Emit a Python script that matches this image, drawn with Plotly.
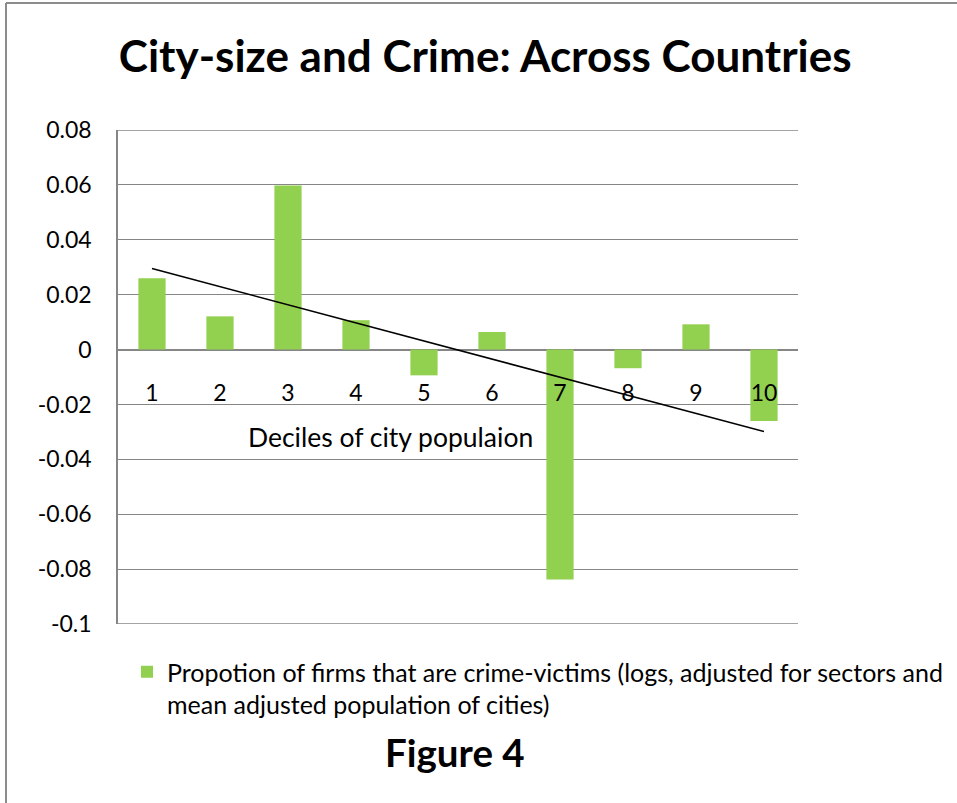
import numpy as np
import plotly.graph_objects as go

# Deciles of city population and adjusted crime-victim proportions
deciles = [1, 2, 3, 4, 5, 6, 7, 8, 9, 10]
crime_share = [0.026, 0.0121, 0.0598, 0.0107, -0.0094, 0.0064, -0.0838, -0.0068, 0.0092, -0.026]
y_tickvals = [0.08, 0.06, 0.04, 0.02, 0, -0.02, -0.04, -0.06, -0.08, -0.1]
y_ticktext = ["0.08", "0.06", "0.04", "0.02", "0", "-0.02", "-0.04", "-0.06", "-0.08", "-0.1"]

series_name = ("Propotion of firms that are crime-victims (logs, adjusted for sectors and"
               "<br>mean adjusted population of cities)")
chart_title = "City-size and Crime: Across Countries"
x_title = "Deciles of city populaion"
footer = "Figure 4"

FONT = "Lato"
GREEN = "#92D050"
GRID = "#868686"

W, H = 957, 803
L, R, T, B = 118, 159, 130, 179
y_lo, y_hi = -0.1, 0.08

# linear trend through the decile values
slope, intercept = np.polyfit(deciles, crime_share, 1)
trend = [slope * d + intercept for d in deciles]

fig = go.Figure()
fig.add_trace(go.Bar(
    x=deciles, y=crime_share, name=series_name,
    marker=dict(color=GREEN, line=dict(width=0)),
))
fig.add_trace(go.Scatter(
    x=[deciles[0], deciles[-1]], y=[trend[0], trend[-1]],
    mode="lines", line=dict(color="black", width=1.6),
    showlegend=False, hoverinfo="skip",
))

plot_w = W - L - R
plot_h = H - T - B
def px_x(p):
    return (p - L) / plot_w
def px_y(p):
    return (H - B - p) / plot_h

zero_pos = (0 - y_lo) / (y_hi - y_lo)

# gridlines at the two ends of the value range
edge_lines = [
    dict(type="line", xref="paper", yref="y", x0=0, x1=1, y0=v, y1=v,
         line=dict(color=GRID, width=1.3), layer="below")
    for v in (y_hi, y_lo)
]

fig.update_layout(
    width=W, height=H,
    margin=dict(l=L, r=R, t=T, b=B, pad=0, autoexpand=False),
    paper_bgcolor="white", plot_bgcolor="white",
    font=dict(family=FONT, size=23, color="black"),
    bargap=0.6,
    showlegend=True,
    title=dict(text=f"<b>{chart_title}</b>", x=0.507, xanchor="center",
               y=1 - 57 / H, yanchor="middle", yref="container",
               font=dict(family=FONT, size=44, color="black")),
    xaxis=dict(
        range=[0.5, 10.5], tickmode="array", tickvals=deciles,
        ticktext=[str(d) for d in deciles],
        anchor="free", position=zero_pos,
        showline=False, showgrid=False, zeroline=False,
        ticks="", ticklabelstandoff=27,
        tickfont=dict(family=FONT, size=23),
    ),
    yaxis=dict(
        range=[y_lo, y_hi], tickmode="array", tickvals=y_tickvals, ticktext=y_ticktext,
        showgrid=True, gridcolor=GRID, gridwidth=1.3,
        zeroline=True, zerolinecolor=GRID, zerolinewidth=1.5,
        showline=True, linecolor=GRID, linewidth=1.5,
        ticks="", ticklabelstandoff=20,
        tickfont=dict(family=FONT, size=23),
    ),
    legend=dict(
        x=px_x(127), y=px_y(649), xanchor="left", yanchor="top",
        orientation="h", valign="top", bgcolor="rgba(0,0,0,0)",
        font=dict(family=FONT, size=25), itemwidth=30,
    ),
    annotations=[
        dict(text=x_title, xref="paper", yref="paper", x=px_x(390), y=px_y(437),
             xanchor="center", yanchor="middle", showarrow=False,
             font=dict(family=FONT, size=26.5)),
        dict(text=f"<b>{footer}</b>", xref="paper", yref="paper", x=px_x(455), y=px_y(752),
             xanchor="center", yanchor="middle", showarrow=False,
             font=dict(family=FONT, size=38.5)),
    ],
    shapes=edge_lines + [
        dict(type="line", xref="paper", yref="paper",
             x0=px_x(6), x1=px_x(6), y0=px_y(3), y1=px_y(H + 5),
             line=dict(color="#8c8c8c", width=2)),
        dict(type="line", xref="paper", yref="paper",
             x0=px_x(6), x1=px_x(W + 5), y0=px_y(3), y1=px_y(3),
             line=dict(color="#8c8c8c", width=2)),
    ],
)

fig.write_html("out.html")
